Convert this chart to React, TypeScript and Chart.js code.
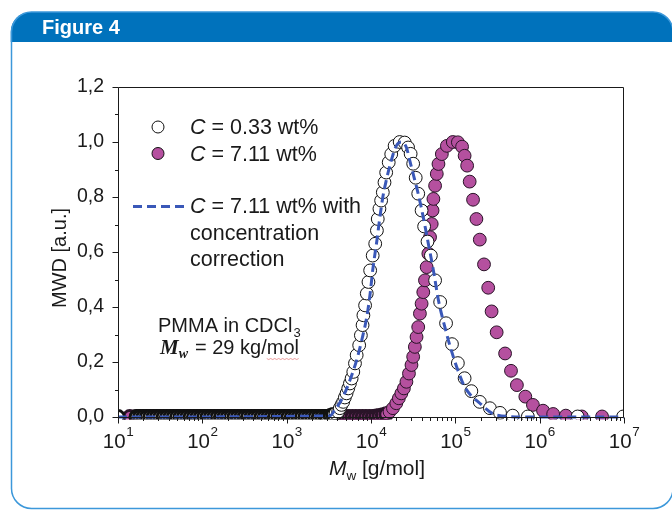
import React, { useEffect, useRef } from 'react';
import { Chart, registerables } from 'chart.js';
Chart.register(...registerables);

// ---------- data (log10 of Mw and MWD value) ----------
const BASELINE_MWD = 0;

const openBaseLogM = [1.00, 1.22, 1.26, 1.30, 1.34, 1.38, 1.42, 1.46, 1.50, 1.54, 1.58, 1.62, 1.66, 1.70, 1.74, 1.78, 1.82, 1.86, 1.90, 1.94, 1.98, 2.02, 2.06, 2.10, 2.14, 2.18, 2.22, 2.26, 2.30, 2.34, 2.38, 2.42, 2.46, 2.50, 2.54, 2.58, 2.62, 2.66, 2.70, 2.74, 2.78, 2.82, 2.86, 2.90, 2.94, 2.98, 3.02, 3.06, 3.10, 3.14, 3.18, 3.22, 3.26, 3.30, 3.34, 3.38, 3.42, 3.46, 3.48];
const openLogM = [3.52, 3.55, 3.58, 3.61, 3.63, 3.65, 3.67, 3.69, 3.71, 3.73, 3.75, 3.77, 3.79, 3.81, 3.83, 3.86, 3.88, 3.90, 3.91, 3.93, 3.95, 3.97, 3.99, 4.02, 4.05, 4.07, 4.08, 4.10, 4.12, 4.14, 4.16, 4.18, 4.21, 4.24, 4.28, 4.34, 4.40, 4.44, 4.47, 4.50, 4.53, 4.56, 4.60, 4.63, 4.67, 4.71, 4.76, 4.82, 4.89, 4.96, 5.03, 5.11, 5.19, 5.29, 5.41, 5.53, 5.68, 5.86, 6.45, 6.99];
const openMwd = [0.004, 0.008, 0.013, 0.019, 0.032, 0.044, 0.055, 0.071, 0.086, 0.104, 0.122, 0.140, 0.164, 0.195, 0.225, 0.261, 0.297, 0.334, 0.370, 0.406, 0.449, 0.491, 0.533, 0.587, 0.630, 0.678, 0.720, 0.757, 0.787, 0.817, 0.853, 0.889, 0.926, 0.956, 0.986, 1.000, 0.998, 0.980, 0.957, 0.921, 0.870, 0.812, 0.751, 0.693, 0.638, 0.587, 0.497, 0.418, 0.341, 0.265, 0.196, 0.141, 0.094, 0.055, 0.032, 0.015, 0.005, 0.002, 0.002, 0.002];

const purpleBaseLogM = [1.14, 1.22, 1.26, 1.30, 1.34, 1.38, 1.42, 1.46, 1.50, 1.54, 1.58, 1.62, 1.66, 1.70, 1.74, 1.78, 1.82, 1.86, 1.90, 1.94, 1.98, 2.02, 2.06, 2.10, 2.14, 2.18, 2.22, 2.26, 2.30, 2.34, 2.38, 2.42, 2.46, 2.50, 2.54, 2.58, 2.62, 2.66, 2.70, 2.74, 2.78, 2.82, 2.86, 2.90, 2.94, 2.98, 3.02, 3.06, 3.10, 3.14, 3.18, 3.22, 3.26, 3.30, 3.34, 3.38, 3.42, 3.46, 3.50, 3.54, 3.58, 3.62, 3.66, 3.70, 3.74, 3.78, 3.82, 3.86, 3.90, 3.94, 3.98, 4.02];
const purpleLogM = [4.06, 4.10, 4.14, 4.18, 4.22, 4.26, 4.30, 4.33, 4.36, 4.39, 4.42, 4.45, 4.48, 4.50, 4.52, 4.54, 4.56, 4.58, 4.60, 4.62, 4.64, 4.66, 4.68, 4.70, 4.72, 4.73, 4.74, 4.76, 4.78, 4.80, 4.84, 4.90, 4.97, 5.03, 5.08, 5.11, 5.14, 5.17, 5.21, 5.25, 5.29, 5.34, 5.39, 5.43, 5.49, 5.59, 5.66, 5.73, 5.83, 5.92, 6.04, 6.16, 6.31, 6.50, 6.74];
const purpleMwd = [0.002, 0.004, 0.007, 0.010, 0.019, 0.032, 0.050, 0.068, 0.086, 0.104, 0.128, 0.158, 0.189, 0.219, 0.255, 0.291, 0.327, 0.376, 0.412, 0.454, 0.497, 0.545, 0.594, 0.654, 0.702, 0.751, 0.793, 0.841, 0.884, 0.920, 0.956, 0.986, 1.000, 0.999, 0.983, 0.950, 0.914, 0.856, 0.790, 0.720, 0.645, 0.555, 0.470, 0.384, 0.308, 0.231, 0.168, 0.116, 0.074, 0.044, 0.023, 0.011, 0.005, 0.002, 0.002];

const corrLogM = [1.00, 3.51, 3.57, 3.67, 3.75, 3.83, 3.89, 3.95, 3.99, 4.02, 4.07, 4.10, 4.14, 4.18, 4.24, 4.30, 4.36, 4.42, 4.46, 4.50, 4.56, 4.62, 4.68, 4.74, 4.80, 4.88, 4.94, 5.03, 5.11, 5.29, 5.49, 5.88, 7.00];
const corrMwd = [0, 0.004, 0.025, 0.074, 0.134, 0.207, 0.279, 0.364, 0.449, 0.533, 0.642, 0.714, 0.799, 0.859, 0.932, 0.986, 1.000, 0.980, 0.932, 0.884, 0.811, 0.726, 0.630, 0.533, 0.424, 0.322, 0.255, 0.170, 0.110, 0.050, 0.007, 0, 0];

const xTickExponents = [1, 2, 3, 4, 5, 6, 7];
const yTickValues = [0, 0.2, 0.4, 0.6, 0.8, 1.0, 1.2];
const yMinorValues = [0.1, 0.3, 0.5, 0.7, 0.9, 1.1];

const legendLabels = ['C = 0.33 wt%', 'C = 7.11 wt%', 'C = 7.11 wt% with', 'concentration', 'correction'];

// ---------- styles ----------
const SANS = "'Liberation Sans', Arial, Helvetica, sans-serif";
const SERIF = "'Liberation Serif', 'Times New Roman', serif";
const PURPLE = '#B5509F';
const DASH_BLUE = '#3A58B8';
const CARD_BLUE = '#0072BC';
const BORDER_BLUE = '#3C98DA';
const INK = '#1a1a1a';
const R_PT = 6.4;

const toPoints = (lg: number[], v: number[]) => lg.map((l, i) => ({ x: Math.pow(10, l), y: v[i] }));
const basePoints = (lg: number[]) => lg.map((l) => ({ x: Math.pow(10, l), y: BASELINE_MWD }));

function cardPath(ctx: CanvasRenderingContext2D, L: number, T: number, R: number, B: number, r: number) {
  ctx.beginPath();
  ctx.moveTo(L + r, T);
  ctx.lineTo(R - r, T);
  ctx.arcTo(R, T, R, T + r, r);
  ctx.lineTo(R, B - r);
  ctx.arcTo(R, B, R - r, B, r);
  ctx.lineTo(L + r, B);
  ctx.arcTo(L, B, L, B - r, r);
  ctx.lineTo(L, T + r);
  ctx.arcTo(L, T, L + r, T, r);
  ctx.closePath();
}

function drawCircle(ctx: CanvasRenderingContext2D, x: number, y: number, r: number, fill: string) {
  ctx.beginPath();
  ctx.arc(x, y, r, 0, Math.PI * 2);
  ctx.fillStyle = fill;
  ctx.fill();
  ctx.lineWidth = 1;
  ctx.strokeStyle = '#111';
  ctx.stroke();
}

function drawCText(ctx: CanvasRenderingContext2D, text: string, x: number, y: number, size: number) {
  ctx.font = `italic ${size}px ${SANS}`;
  ctx.fillText('C', x, y);
  const w = ctx.measureText('C').width;
  ctx.font = `${size}px ${SANS}`;
  ctx.fillText(text.slice(1), x + w, y);
}

const figurePlugin = {
  id: 'figurePlugin',
  beforeDraw(chart: any) {
    const ctx: CanvasRenderingContext2D = chart.ctx;
    ctx.save();
    ctx.fillStyle = '#ffffff';
    ctx.fillRect(0, 0, chart.width, chart.height);
    const L = 11.5, T = 12, R = 673, B = 508.5, rad = 20;
    ctx.save();
    cardPath(ctx, L - 0.75, T, R, B, rad);
    ctx.clip();
    ctx.fillStyle = CARD_BLUE;
    ctx.fillRect(0, T, chart.width, 30);
    ctx.restore();
    cardPath(ctx, L, T, R, B, rad);
    ctx.strokeStyle = BORDER_BLUE;
    ctx.lineWidth = 1.5;
    ctx.stroke();
    ctx.fillStyle = '#ffffff';
    ctx.font = `bold 20px ${SANS}`;
    ctx.textBaseline = 'alphabetic';
    ctx.fillText('Figure 4', 42, 34);
    ctx.restore();
  },
  beforeDatasetsDraw(chart: any) {
    const ctx: CanvasRenderingContext2D = chart.ctx;
    ctx.save();
    ctx.fillStyle = INK;
    ctx.textBaseline = 'alphabetic';
    ctx.textAlign = 'left';
    drawCText(ctx, legendLabels[0], 190, 133.5, 21.5);
    drawCText(ctx, legendLabels[1], 190, 160.5, 21.5);
    drawCText(ctx, legendLabels[2], 190, 213, 21.5);
    ctx.font = `21.5px ${SANS}`;
    ctx.fillText(legendLabels[3], 190, 240);
    ctx.fillText(legendLabels[4], 190, 266);
    ctx.font = `20px ${SANS}`;
    ctx.fillText('PMMA in CDCl', 158, 332);
    const w1 = ctx.measureText('PMMA in CDCl').width;
    ctx.font = `13px ${SANS}`;
    ctx.fillText('3', 158 + w1 + 1, 337);
    ctx.font = `bold italic 21px ${SERIF}`;
    ctx.fillText('M', 160, 354);
    const wm = ctx.measureText('M').width;
    ctx.font = `bold italic 14px ${SERIF}`;
    ctx.fillText('w', 160 + wm, 358);
    ctx.font = `20px ${SANS}`;
    ctx.fillText('= 29 kg/mol', 195, 354);
    const wPre = ctx.measureText('= 29 kg/').width;
    const wMol = ctx.measureText('mol').width;
    ctx.strokeStyle = 'rgba(220,80,80,0.7)';
    ctx.lineWidth = 0.8;
    ctx.beginPath();
    for (let x = 195 + wPre; x <= 195 + wPre + wMol; x += 2) {
      const yy = 358.5 + (Math.round((x - 195 - wPre) / 2) % 2 === 0 ? 0 : 1);
      if (x === 195 + wPre) ctx.moveTo(x, yy); else ctx.lineTo(x, yy);
    }
    ctx.stroke();
    ctx.restore();
  },
  afterDraw(chart: any) {
    const ctx: CanvasRenderingContext2D = chart.ctx;
    const a = chart.chartArea;
    const xs = chart.scales.x;
    const ys = chart.scales.y;
    ctx.save();
    ctx.strokeStyle = INK;
    ctx.lineWidth = 1;
    const left = a.left + 0.5, right = a.right - 0.5, top = a.top + 0.5, bottom = a.bottom + 0.5;
    ctx.beginPath();
    ctx.moveTo(left, top); ctx.lineTo(right, top); ctx.lineTo(right, bottom); ctx.lineTo(left, bottom); ctx.closePath();
    ctx.stroke();
    ctx.beginPath();
    yTickValues.forEach((v) => {
      const y = Math.round(ys.getPixelForValue(v)) + 0.5;
      ctx.moveTo(left - 6, y); ctx.lineTo(left, y);
    });
    yMinorValues.forEach((v) => {
      const y = Math.round(ys.getPixelForValue(v)) + 0.5;
      ctx.moveTo(left - 3.5, y); ctx.lineTo(left, y);
    });
    xTickExponents.forEach((e, i) => {
      const x = Math.round(xs.getPixelForValue(Math.pow(10, e))) + 0.5;
      ctx.moveTo(x, bottom); ctx.lineTo(x, bottom + 6);
      if (i < xTickExponents.length - 1) {
        for (let k = 2; k <= 9; k++) {
          const xm = Math.round(xs.getPixelForValue(k * Math.pow(10, e))) + 0.5;
          ctx.moveTo(xm, bottom); ctx.lineTo(xm, bottom + 3.5);
        }
      }
    });
    ctx.stroke();
    ctx.fillStyle = INK;
    ctx.textBaseline = 'alphabetic';
    ctx.textAlign = 'left';
    xTickExponents.forEach((e) => {
      const x = xs.getPixelForValue(Math.pow(10, e));
      ctx.font = `20.5px ${SANS}`;
      const w10 = ctx.measureText('10').width;
      ctx.font = `13.5px ${SANS}`;
      const ws = ctx.measureText(String(e)).width;
      const x0 = x - (w10 + ws) / 2;
      ctx.font = `20.5px ${SANS}`;
      ctx.fillText('10', x0, 448);
      ctx.font = `13.5px ${SANS}`;
      ctx.fillText(String(e), x0 + w10 + 0.5, 436);
    });
    ctx.font = `italic 21px ${SANS}`;
    const wM = ctx.measureText('M').width;
    ctx.font = `13.5px ${SANS}`;
    const ww = ctx.measureText('w').width;
    ctx.font = `21px ${SANS}`;
    const wr = ctx.measureText(' [g/mol]').width;
    const tx = 377 - (wM + ww + wr) / 2;
    ctx.font = `italic 21px ${SANS}`;
    ctx.fillText('M', tx, 475);
    ctx.font = `13.5px ${SANS}`;
    ctx.fillText('w', tx + wM, 480);
    ctx.font = `21px ${SANS}`;
    ctx.fillText(' [g/mol]', tx + wM + ww, 475);
    ctx.save();
    ctx.translate(66, 258);
    ctx.rotate(-Math.PI / 2);
    ctx.textAlign = 'center';
    ctx.font = `20px ${SANS}`;
    ctx.fillText('MWD [a.u.]', 0, 0);
    ctx.restore();
    drawCircle(ctx, 158, 127, 6, '#ffffff');
    drawCircle(ctx, 158, 153.5, 6, PURPLE);
    ctx.strokeStyle = DASH_BLUE;
    ctx.lineWidth = 3;
    ctx.setLineDash([9, 5]);
    ctx.beginPath();
    ctx.moveTo(133, 206.5); ctx.lineTo(187, 206.5);
    ctx.stroke();
    ctx.setLineDash([]);
    ctx.restore();
  },
};

export default function App() {
  const ref = useRef<HTMLCanvasElement | null>(null);
  useEffect(() => {
    if (!ref.current) return;
    // denser-looking low-mass baseline band: thicker outline on the left-hand baseline run only
    const borderW = (c: any) => (c.raw && c.raw.y < 0.012 && c.raw.x < 20000 ? 3 : 1);
    const clip = { left: 0, top: 0, right: 0, bottom: 2.5 };
    const chart = new Chart(ref.current, {
      type: 'scatter',
      data: {
        datasets: [
          {
            label: legendLabels[2],
            data: toPoints(corrLogM, corrMwd),
            showLine: true,
            borderColor: DASH_BLUE,
            borderWidth: 3,
            borderDash: [9, 5],
            pointRadius: 0,
            tension: 0.3,
            cubicInterpolationMode: 'monotone',
            order: 0,
            clip,
          } as any,
          {
            label: legendLabels[0],
            data: [...basePoints(openBaseLogM), ...toPoints(openLogM, openMwd)],
            backgroundColor: '#ffffff',
            borderColor: '#111111',
            pointRadius: R_PT,
            pointBorderWidth: borderW,
            order: 1,
            clip,
          } as any,
          {
            label: legendLabels[1],
            data: [...basePoints(purpleBaseLogM), ...toPoints(purpleLogM, purpleMwd)],
            backgroundColor: PURPLE,
            borderColor: '#2a1428',
            pointRadius: R_PT,
            pointBorderWidth: borderW,
            order: 2,
            clip,
          } as any,
        ],
      },
      options: {
        responsive: false,
        animation: false,
        devicePixelRatio: 1,
        layout: { padding: { top: 87, right: 48, left: 0, bottom: 0 } },
        plugins: { legend: { display: false }, tooltip: { enabled: false } },
        scales: {
          x: {
            type: 'logarithmic',
            min: 10,
            max: 1e7,
            ticks: { display: false },
            grid: { display: false, drawTicks: false },
            border: { display: false },
            afterFit: (s: any) => { s.height = 93; },
          },
          y: {
            min: 0,
            max: 1.2,
            afterBuildTicks: (s: any) => { s.ticks = yTickValues.map((v) => ({ value: v })); },
            ticks: {
              callback: (v: any) => Number(v).toFixed(1).replace('.', ','),
              font: { family: SANS, size: 19.5 },
              color: INK,
              padding: 14,
            },
            grid: { display: false, drawTicks: false },
            border: { display: false },
            afterFit: (s: any) => { s.width = 118; },
          },
        },
      } as any,
      plugins: [figurePlugin],
    });
    return () => chart.destroy();
  }, []);
  return (
    <div style={{ position: 'absolute', left: 0, top: 0, width: 672, height: 510 }}>
      <canvas ref={ref} width={672} height={510} style={{ display: 'block' }} />
    </div>
  );
}
